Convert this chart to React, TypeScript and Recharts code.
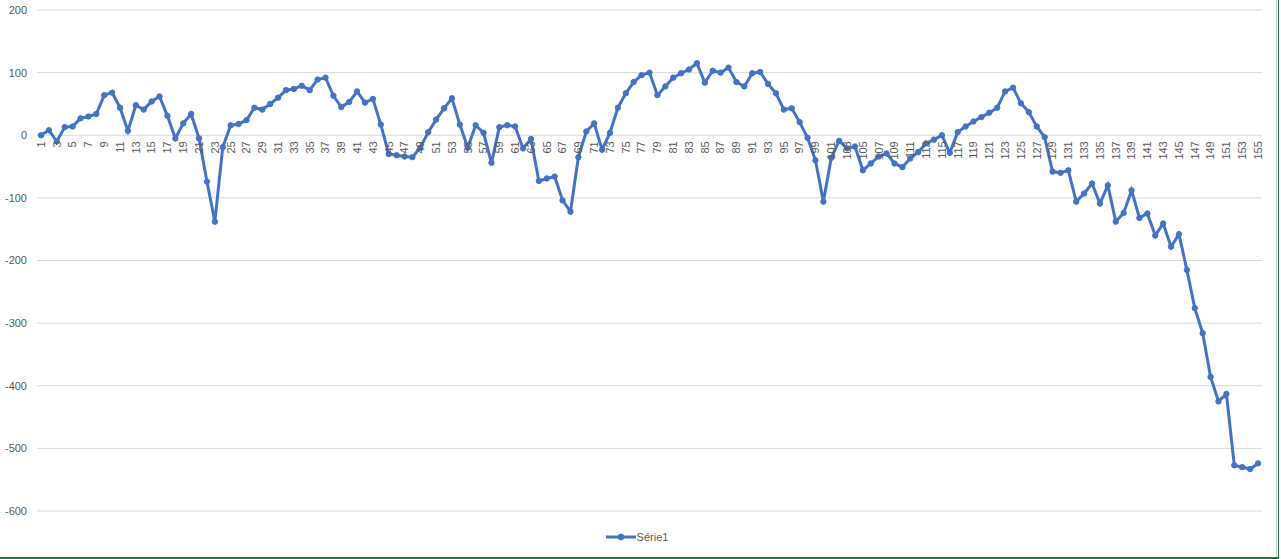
import {
  CartesianGrid,
  Legend,
  Line,
  LineChart,
  XAxis,
  YAxis,
} from "recharts";

// Série1, one value per category (1..155)
const serie1: number[] = [
  0, 8, -10, 13, 14, 27, 30, 34, 64, 68,
  44, 7, 48, 41, 54, 62, 31, -5, 19, 34,
  -5, -74, -138, -19, 16, 18, 24, 44, 41, 50,
  60, 72, 74, 79, 72, 89, 92, 63, 45, 53,
  70, 52, 58, 17, -30, -32, -34, -35, -20, 5,
  25, 43, 59, 17, -20, 16, 4, -44, 13, 16,
  14, -21, -6, -73, -69, -66, -104, -122, -35, 6,
  19, -23, 4, 44, 67, 85, 96, 100, 64, 78,
  92, 99, 105, 115, 84, 103, 100, 108, 85, 78,
  99, 101, 82, 67, 41, 43, 21, -4, -40, -106,
  -36, -9, -21, -18, -56, -45, -34, -29, -45, -51,
  -37, -27, -13, -7, 0, -28, 5, 14, 22, 29,
  36, 44, 70, 76, 51, 37, 14, -3, -58, -60,
  -56, -106, -93, -77, -109, -80, -138, -124, -88, -132,
  -125, -160, -141, -178, -158, -215, -276, -316, -386, -425,
  -413, -527, -530, -533, -524,
];

const categories: string[] = serie1.map((_, i) => String(i + 1));
const yTicks = [200, 100, 0, -100, -200, -300, -400, -500, -600];
const SERIES_NAME = "Série1";

const data = categories.map((c, i) => ({ cat: c, v: serie1[i] }));

const W = 1281;
const H = 559;
const TOP = 10;
const PLOT_H = 501;
const Y_MAX = 200;
const Y_MIN = -600;
const BLUE = "#4472C4";
const GREY_TEXT = "#595959";
const FONT = "'Liberation Sans', Arial, sans-serif";

// Excel puts the category axis where y = 0, not at the bottom of the plot
const ZERO_Y = TOP + (Y_MAX / (Y_MAX - Y_MIN)) * PLOT_H;

const renderCategoryTick = (props: any) => {
  const { x, payload } = props;
  const y = ZERO_Y + 6;
  return (
    <text
      key={`cat-${payload.value}`}
      x={x}
      y={y}
      transform={`rotate(-90 ${x} ${y})`}
      textAnchor="end"
      dy="0.35em"
      fontSize={11}
      fontFamily={FONT}
      fill={GREY_TEXT}
    >
      {payload.value}
    </text>
  );
};

function LegendContent() {
  return (
    <div
      style={{
        display: "flex",
        alignItems: "center",
        justifyContent: "center",
        height: 16,
        paddingLeft: 12,
        fontFamily: FONT,
        fontSize: 11,
        color: GREY_TEXT,
      }}
    >
      <svg width={30} height={8} style={{ marginRight: 1 }}>
        <line x1={0} y1={4} x2={30} y2={4} stroke={BLUE} strokeWidth={3} />
        <circle cx={15} cy={4} r={3.2} fill={BLUE} />
      </svg>
      <span>{SERIES_NAME}</span>
    </div>
  );
}

export default function App() {
  return (
    <div style={{ position: "relative", width: W, height: H, background: "#fff" }}>
      <style>{`body { margin: 0; }`}</style>
      <LineChart
        width={W}
        height={H}
        data={data}
        margin={{ top: TOP, right: 19, bottom: 12, left: 0 }}
      >
        <CartesianGrid vertical={false} stroke="#d9d9d9" strokeWidth={1} />
        <XAxis
          dataKey="cat"
          height={20}
          interval={1}
          axisLine={false}
          tickLine={false}
          tick={renderCategoryTick}
          padding={{ left: 4, right: 4 }}
        />
        <YAxis
          width={37}
          domain={[Y_MIN, Y_MAX]}
          ticks={yTicks}
          axisLine={false}
          tickLine={false}
          tickMargin={4}
          tick={{ fontSize: 11, fill: GREY_TEXT, fontFamily: FONT }}
        />
        <Legend
          verticalAlign="bottom"
          height={16}
          wrapperStyle={{ bottom: 14 }}
          content={<LegendContent />}
        />
        <Line
          type="linear"
          dataKey="v"
          name={SERIES_NAME}
          stroke={BLUE}
          strokeWidth={3}
          dot={{ r: 2.7, fill: BLUE, stroke: BLUE, strokeWidth: 1 }}
          activeDot={false}
          isAnimationActive={false}
        />
      </LineChart>
      {/* worksheet edges visible around the chart in the screenshot */}
      <div style={{ position: "absolute", left: 1276, top: 0, width: 1, height: H, background: "#c8c8c8" }} />
      <div style={{ position: "absolute", left: 1278, top: 0, width: 1, height: H, background: "#217346" }} />
      <div style={{ position: "absolute", left: 0, top: 557, width: 1279, height: 2, background: "#217346" }} />
    </div>
  );
}
